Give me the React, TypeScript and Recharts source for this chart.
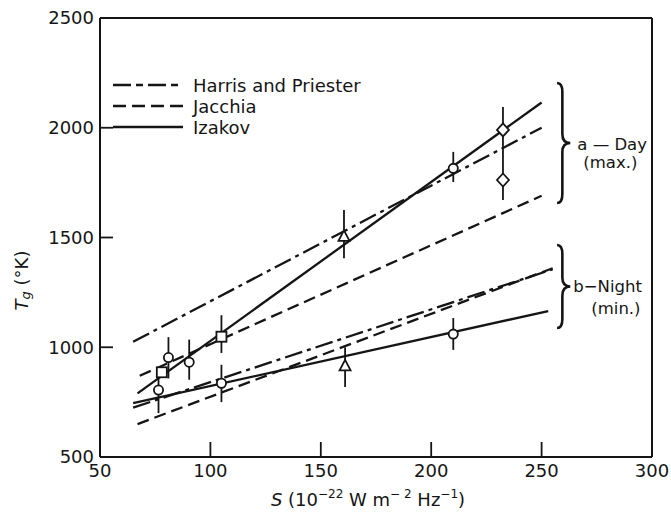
import React from 'react';
import { ComposedChart, Line, Scatter, XAxis, YAxis, ErrorBar, ReferenceArea, Legend } from 'recharts';

// ---------- data ----------
const xTicks = [50, 100, 150, 200, 250, 300];
const yTicks = [500, 1000, 1500, 2000, 2500];
const innerXTicks = [100, 150, 200, 250];
const innerYTicks = [1000, 1500, 2000];
const xDomain = [50, 300];
const yDomain = [500, 2500];

const legendNames = ['Harris and Priester', 'Jacchia', 'Izakov'];

const harrisDay = [{ x: 65, y: 1025 }, { x: 250, y: 2000 }];
const jacchiaDay = [{ x: 68, y: 870 }, { x: 250, y: 1690 }];
const izakovDay = [{ x: 67, y: 790 }, { x: 250, y: 2115 }];
const harrisNight = [{ x: 65, y: 725 }, { x: 255, y: 1355 }];
const jacchiaNight = [{ x: 67, y: 650 }, { x: 255, y: 1360 }];
const izakovNight = [{ x: 65, y: 745 }, { x: 253, y: 1165 }];

const circlePoints = [
  { x: 76.5, y: 805, lo: 700, hi: 865 },
  { x: 81, y: 953, lo: 858, hi: 1046 },
  { x: 90.4, y: 932, lo: 852, hi: 1035 },
  { x: 105, y: 836, lo: 750, hi: 920 },
  { x: 210, y: 1060, lo: 988, hi: 1133 },
  { x: 210, y: 1815, lo: 1753, hi: 1890 },
];
const squarePoints = [
  { x: 78, y: 886, lo: 886, hi: 886 },
  { x: 105, y: 1048, lo: 974, hi: 1146 },
];
const trianglePoints = [
  { x: 160.5, y: 1505, lo: 1405, hi: 1625 },
  { x: 161, y: 915, lo: 819, hi: 1000 },
];
const diamondPoints = [
  { x: 232.5, y: 1990, lo: 1762, hi: 2095 },
  { x: 232.5, y: 1762, lo: 1671, hi: 1762 },
];

const dayBrace = { x1: 257, x2: 263, y1: 1657, y2: 2204, labels: ['a \u2014 Day', '(max.)'] };
const nightBrace = { x1: 257, x2: 263, y1: 1088, y2: 1466, labels: ['b\u2212Night', '(min.)'] };

// ---------- styles ----------
const FONT = '"DejaVu Sans", sans-serif';
const INK = '#151515';
const HARRIS_DASH = '18 5 4 5';
const JACCHIA_DASH = '12 6';
const legendDash = ['18 5 7 5', '13 6', undefined];
const dayLabelOffsets = [{ dx: 7, dy: 7 }, { dx: 13, dy: 25 }];
const nightLabelOffsets = [{ dx: 3, dy: 6 }, { dx: 21, dy: 28 }];

const withErr = (pts) => pts.map((p) => ({ ...p, err: [p.y - p.lo, p.hi - p.y] }));

const CircleShape = (p) => (
  <circle cx={p.cx} cy={p.cy} r={4.6} fill="#fff" stroke={INK} strokeWidth={1.8} />
);
const SquareShape = (p) => (
  <rect x={p.cx - 5} y={p.cy - 5} width={10} height={10} fill="#fff" stroke={INK} strokeWidth={1.8} />
);
const TriangleShape = (p) => (
  <path d={`M ${p.cx} ${p.cy - 6} L ${p.cx + 5.5} ${p.cy + 4.5} L ${p.cx - 5.5} ${p.cy + 4.5} Z`} fill="#fff" stroke={INK} strokeWidth={1.8} />
);
const DiamondShape = (p) => (
  <path d={`M ${p.cx} ${p.cy - 6.5} L ${p.cx + 6} ${p.cy} L ${p.cx} ${p.cy + 6.5} L ${p.cx - 6} ${p.cy} Z`} fill="#fff" stroke={INK} strokeWidth={1.8} />
);

const makeBrace = (labels, offsets) => (props) => {
  const { x, y, width, height } = props;
  const top = y;
  const bottom = y + height;
  const mid = y + height / 2;
  const xm = x + width * 0.4;
  const tip = x + width;
  const q = 9;
  const d = `M ${x} ${top} Q ${xm} ${top} ${xm} ${top + q} L ${xm} ${mid - q} Q ${xm} ${mid} ${tip} ${mid} Q ${xm} ${mid} ${xm} ${mid + q} L ${xm} ${bottom - q} Q ${xm} ${bottom} ${x} ${bottom}`;
  return (
    <g>
      <path d={d} fill="none" stroke={INK} strokeWidth={2.6} />
      {labels.map((t, i) => (
        <text key={i} x={tip + offsets[i].dx} y={mid + offsets[i].dy} fontFamily={FONT} fontSize={16.5} fill={INK}>
          {t}
        </text>
      ))}
    </g>
  );
};

const YLabel = (props) => {
  const vb = props.viewBox || { x: 0, y: 18, width: 100, height: 439 };
  const cx = vb.x + 21;
  const cy = vb.y + vb.height / 2 + 43;
  return (
    <text transform={`rotate(-90 ${cx} ${cy})`} x={cx} y={cy} textAnchor="middle" dominantBaseline="central" fontFamily={FONT} fontSize={18} fill={INK}>
      <tspan fontStyle="italic">T</tspan>
      <tspan fontStyle="italic" fontSize={13} dy={4}>g</tspan>
      <tspan dy={-4}> (°K)</tspan>
    </text>
  );
};

const XLabel = (props) => {
  const vb = props.viewBox || { x: 100, y: 457, width: 552, height: 56 };
  const cx = vb.x + 268;
  const cy = vb.y + 49;
  return (
    <text x={cx} y={cy} textAnchor="middle" fontFamily={FONT} fontSize={18} fill={INK}>
      <tspan fontStyle="italic">S</tspan>
      <tspan>{'  (10'}</tspan>
      <tspan fontSize={12} dy={-8}>{'\u221222'}</tspan>
      <tspan dy={8}>{'  W m'}</tspan>
      <tspan fontSize={12} dy={-8}>{'\u2212 2'}</tspan>
      <tspan dy={8}>{' Hz'}</tspan>
      <tspan fontSize={12} dy={-8}>{'\u22121'}</tspan>
      <tspan dy={8}>)</tspan>
    </text>
  );
};

const LegendContent = () => (
  <div style={{ fontFamily: FONT, fontSize: 18, color: INK }}>
    {legendNames.map((n, i) => (
      <div key={n} style={{ display: 'flex', alignItems: 'center', height: 21 }}>
        <svg width={70} height={6} style={{ display: 'block' }}>
          <line x1={0} y1={3} x2={70} y2={3} stroke={INK} strokeWidth={2.3} strokeDasharray={legendDash[i]} />
        </svg>
        <span style={{ marginLeft: 10, lineHeight: '21px' }}>{n}</span>
      </div>
    ))}
  </div>
);

const tickStyle = { fontSize: 18, fill: INK, fontFamily: FONT };
const frameLine = { stroke: INK, strokeWidth: 2 };
const tickLineStyle = { stroke: INK, strokeWidth: 1.8 };

const lineBase = {
  dataKey: 'y',
  type: 'linear' as const,
  dot: false,
  activeDot: false,
  stroke: INK,
  strokeWidth: 2.3,
  isAnimationActive: false,
  legendType: 'none' as const,
};
const dayAxes = { xAxisId: 'main', yAxisId: 'main' };
const nightAxes = { xAxisId: 'top', yAxisId: 'right' };

const scatterCommon = {
  xAxisId: 'main',
  yAxisId: 'main',
  isAnimationActive: false,
  legendType: 'none' as const,
};

export default function App() {
  return (
    <div style={{ position: 'absolute', left: 0, top: 0, width: 671, height: 513, background: '#fff' }}>
      <ComposedChart width={671} height={513} margin={{ top: 0, right: 0, bottom: 0, left: 0 }}>
        <XAxis
          xAxisId="main"
          type="number"
          dataKey="x"
          domain={xDomain}
          ticks={xTicks}
          allowDataOverflow
          height={56}
          tickSize={-15}
          tickMargin={22}
          tickLine={tickLineStyle}
          axisLine={frameLine}
          tick={tickStyle}
          label={{ content: XLabel }}
        />
        <XAxis
          xAxisId="top"
          orientation="top"
          type="number"
          dataKey="x"
          domain={xDomain}
          ticks={innerXTicks}
          allowDataOverflow
          height={18}
          tickSize={-16}
          tickMargin={0}
          tickLine={tickLineStyle}
          axisLine={frameLine}
          tick={false}
        />
        <YAxis
          yAxisId="main"
          type="number"
          dataKey="y"
          domain={yDomain}
          ticks={yTicks}
          allowDataOverflow
          width={100}
          tickSize={-13}
          tickMargin={19}
          tickLine={tickLineStyle}
          axisLine={frameLine}
          tick={tickStyle}
          label={{ content: YLabel }}
        />
        <YAxis
          yAxisId="right"
          orientation="right"
          type="number"
          dataKey="y"
          domain={yDomain}
          ticks={innerYTicks}
          allowDataOverflow
          width={19}
          tickSize={-13}
          tickMargin={0}
          tickLine={tickLineStyle}
          axisLine={frameLine}
          tick={false}
        />

        <Line {...lineBase} {...dayAxes} data={harrisDay} name="Harris and Priester (day)" strokeDasharray={HARRIS_DASH} />
        <Line {...lineBase} {...dayAxes} data={jacchiaDay} name="Jacchia (day)" strokeDasharray={JACCHIA_DASH} />
        <Line {...lineBase} {...dayAxes} data={izakovDay} name="Izakov (day)" />
        <Line {...lineBase} {...nightAxes} data={harrisNight} name="Harris and Priester (night)" strokeDasharray={HARRIS_DASH} />
        <Line {...lineBase} {...nightAxes} data={jacchiaNight} name="Jacchia (night)" strokeDasharray={JACCHIA_DASH} />
        <Line {...lineBase} {...nightAxes} data={izakovNight} name="Izakov (night)" />

        <Scatter {...scatterCommon} data={withErr(circlePoints)} shape={CircleShape}>
          <ErrorBar dataKey="err" direction="y" width={0} stroke={INK} strokeWidth={1.8} />
        </Scatter>
        <Scatter {...scatterCommon} data={withErr(squarePoints)} shape={SquareShape}>
          <ErrorBar dataKey="err" direction="y" width={0} stroke={INK} strokeWidth={1.8} />
        </Scatter>
        <Scatter {...scatterCommon} data={withErr(trianglePoints)} shape={TriangleShape}>
          <ErrorBar dataKey="err" direction="y" width={0} stroke={INK} strokeWidth={1.8} />
        </Scatter>
        <Scatter {...scatterCommon} data={withErr(diamondPoints)} shape={DiamondShape}>
          <ErrorBar dataKey="err" direction="y" width={0} stroke={INK} strokeWidth={1.8} />
        </Scatter>

        <ReferenceArea
          xAxisId="main"
          yAxisId="main"
          x1={dayBrace.x1}
          x2={dayBrace.x2}
          y1={dayBrace.y1}
          y2={dayBrace.y2}
          shape={makeBrace(dayBrace.labels, dayLabelOffsets)}
        />
        <ReferenceArea
          xAxisId="main"
          yAxisId="main"
          x1={nightBrace.x1}
          x2={nightBrace.x2}
          y1={nightBrace.y1}
          y2={nightBrace.y2}
          shape={makeBrace(nightBrace.labels, nightLabelOffsets)}
        />

        <Legend
          layout="horizontal"
          verticalAlign="middle"
          align="center"
          content={LegendContent}
          wrapperStyle={{ position: 'absolute', left: 113, top: 74.5, width: 300 }}
        />
      </ComposedChart>
    </div>
  );
}
